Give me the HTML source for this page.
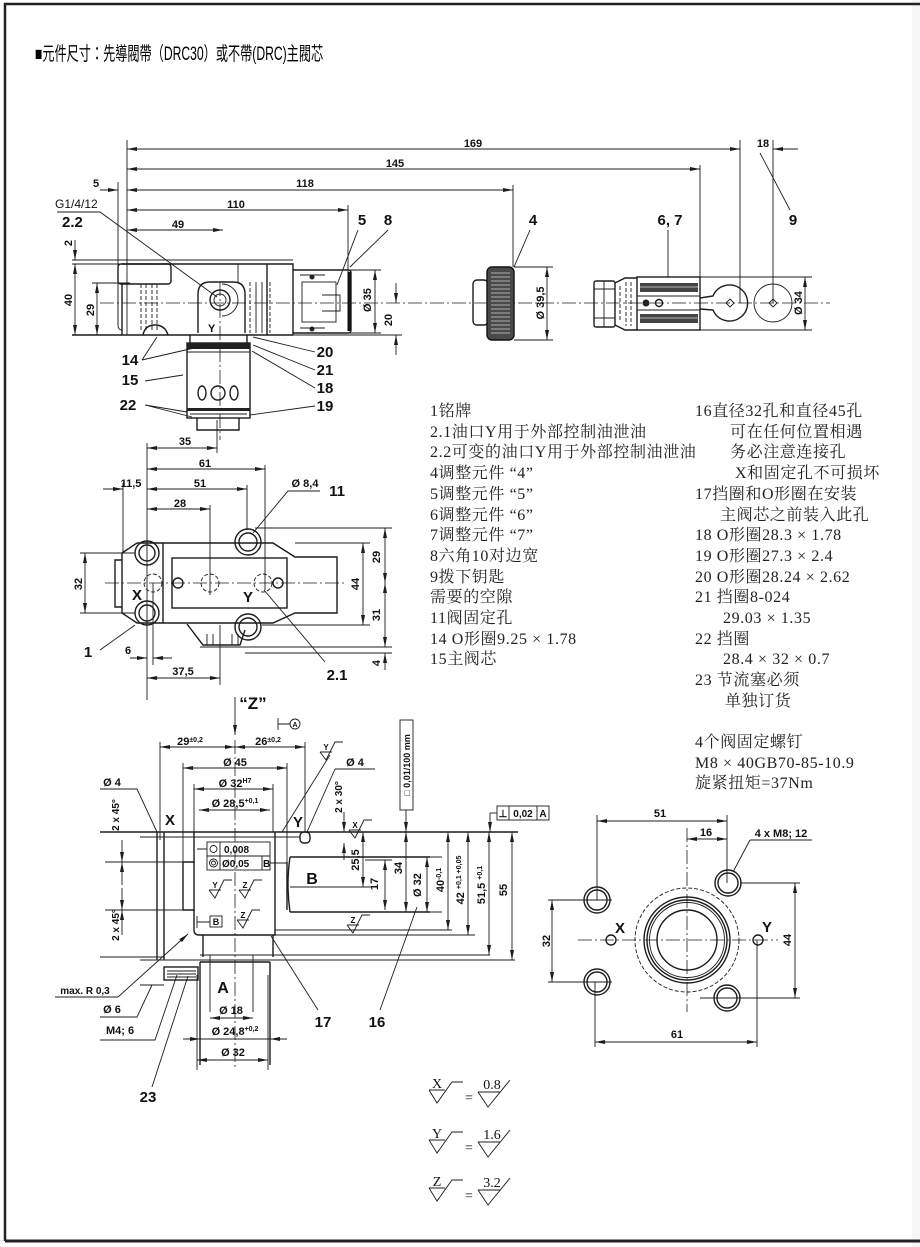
<!DOCTYPE html>
<html><head><meta charset="utf-8">
<style>
html,body{margin:0;padding:0;background:#fff}
svg{display:block}
.o{stroke:#1c1c1c;stroke-width:1.4;fill:none}
.t{stroke:#1c1c1c;stroke-width:0.9;fill:none}
.c{stroke:#1c1c1c;stroke-width:0.8;fill:none;stroke-dasharray:14 3 2 3}
.h{stroke:#1c1c1c;stroke-width:0.9;fill:none;stroke-dasharray:4 2}
text{font-family:"Liberation Sans",sans-serif;fill:#111}
.n{font-size:11px;font-weight:bold}
.s{font-size:10px;font-weight:bold}
.b{font-size:15px;font-weight:bold}
.lg{font-family:"Liberation Serif","Noto Serif CJK SC",serif;font-size:16px;fill:#222;letter-spacing:0.6px}
.sf{font-family:"Liberation Serif",serif;font-size:14px}
</style></head><body>
<svg width="920" height="1247" viewBox="0 0 920 1247" xmlns="http://www.w3.org/2000/svg">
<defs>
<marker id="a" viewBox="0 0 10 4" refX="10" refY="2" markerWidth="10" markerHeight="4" markerUnits="userSpaceOnUse" orient="auto-start-reverse"><path d="M0,0L10,2L0,4z" fill="#1c1c1c"/></marker>
</defs>
<rect x="0" y="0" width="920" height="1247" fill="#fff"/>
<rect x="912" y="0" width="8" height="1247" fill="#f6f6f6"/>
<path d="M5,1241V4H920" stroke="#222" stroke-width="2.5" fill="none"/>
<line x1="5" y1="1241" x2="920" y2="1241" stroke="#222" stroke-width="3"/>

<!-- Title -->
<text transform="translate(35,60) scale(0.64,1)" x="0" y="0" font-size="19" style="font-family:'Liberation Sans','Noto Sans CJK TC',sans-serif;fill:#000">■元件尺寸：先導閥帶（DRC30）或不帶(DRC)主閥芯</text>

<!-- ============ TOP VIEW ============ -->
<g>
<line class="t" x1="127" y1="149" x2="740" y2="149" marker-start="url(#a)" marker-end="url(#a)"/>
<line class="t" x1="773" y1="149" x2="798" y2="149" marker-start="url(#a)"/>
<line class="t" x1="127" y1="169" x2="700" y2="169" marker-start="url(#a)" marker-end="url(#a)"/>
<line class="t" x1="127" y1="190" x2="513" y2="190" marker-start="url(#a)" marker-end="url(#a)"/>
<line class="t" x1="100" y1="190" x2="118" y2="190" marker-end="url(#a)"/>
<line class="t" x1="127" y1="210" x2="348" y2="210" marker-start="url(#a)" marker-end="url(#a)"/>
<line class="t" x1="127" y1="230" x2="223" y2="230" marker-start="url(#a)" marker-end="url(#a)"/>
<path class="t" d="M127,140V335 M118,182V325 M348,205V272 M513,185V267 M700,165V277 M740,140V303 M773,140V303"/>
<text class="n" x="473" y="147" text-anchor="middle">169</text>
<text class="n" x="395" y="167" text-anchor="middle">145</text>
<text class="n" x="305" y="187" text-anchor="middle">118</text>
<text class="n" x="96" y="187" text-anchor="middle">5</text>
<text class="n" x="236" y="208" text-anchor="middle">110</text>
<text class="n" x="178" y="228" text-anchor="middle">49</text>
<text class="n" x="763" y="147" text-anchor="middle">18</text>
<text x="55" y="208" font-size="12">G1/4/12</text>
<text class="b" x="62" y="227">2.2</text>
<path class="t" d="M57,212H100L217,297"/>

<!-- body -->
<path class="t" d="M72,260H293 M72,264H122 M92,283H130"/>
<path class="o" d="M122,264H293V335 M122,284V335"/>
<rect class="o" x="118" y="264" width="53" height="20" rx="3"/>
<path class="t" d="M118,284V325Q118,330 122,330"/>
<path class="h" d="M141,284V330 M146,284V330 M152,284V330 M157,284V330"/>
<path class="o" d="M143,335Q145,325 155,325Q165,325 168,335"/>
<path class="o" d="M198,333V294Q198,282 210,282H233Q245,282 245,294V333"/>
<circle class="o" cx="220" cy="300" r="10"/><circle class="t" cx="220" cy="300" r="6"/>
<path class="t" d="M222,284A16,16 0 0 1 222,316"/>
<text x="208" y="332" font-size="11" font-weight="bold">Y</text>
<path class="t" d="M238,264V282 M256,282V333 M262,282V333"/>
<path class="h" d="M250,282V333 M270,282V333"/>
<path class="o" d="M267,264V335"/>
<path class="o" d="M293,270H348Q351,270 351,273V330Q351,333 348,333H293"/>
<path stroke="#111" stroke-width="3" d="M349,272V331"/>
<rect class="t" x="302" y="282" width="34" height="40"/>
<path class="t" d="M300,275H325 M300,328H325 M322,295H340V311H322"/>
<circle fill="#222" cx="312" cy="277" r="2.5"/><circle fill="#222" cx="312" cy="329" r="2.5"/>
<path class="c" d="M100,303H830"/>
<path class="o" d="M72,335H293"/>
<path class="t" d="M293,335H402 M350,270H381 M350,333H381"/>

<line class="t" x1="75" y1="264" x2="75" y2="335" marker-start="url(#a)" marker-end="url(#a)"/>
<line class="t" x1="75" y1="240" x2="75" y2="260" marker-end="url(#a)"/>
<line class="t" x1="97" y1="283" x2="97" y2="335" marker-start="url(#a)" marker-end="url(#a)"/>
<line class="t" x1="375" y1="270" x2="375" y2="333" marker-start="url(#a)" marker-end="url(#a)"/>
<line class="t" x1="396" y1="283" x2="396" y2="303" marker-end="url(#a)"/>
<line class="t" x1="396" y1="355" x2="396" y2="335" marker-end="url(#a)"/>
<text class="n" x="72" y="300" text-anchor="middle" transform="rotate(-90 72 300)">40</text>
<text class="n" x="72" y="243" text-anchor="middle" transform="rotate(-90 72 243)">2</text>
<text class="n" x="94" y="310" text-anchor="middle" transform="rotate(-90 94 310)">29</text>
<text class="n" x="371" y="300" text-anchor="middle" transform="rotate(-90 371 300)">Ø 35</text>
<text class="n" x="392" y="320" text-anchor="middle" transform="rotate(-90 392 320)">20</text>

<!-- spool 15 -->
<path class="o" d="M190,335V343 M247,335V343"/>
<rect class="o" x="187" y="343" width="63" height="75"/>
<rect fill="#222" x="187" y="343" width="63" height="6"/>
<path class="t" d="M187,352H250 M190,414H247"/>
<rect fill="#222" x="187" y="408" width="63" height="3"/>
<ellipse class="o" cx="202" cy="393" rx="4" ry="7"/>
<circle class="o" cx="218" cy="393" r="7"/>
<ellipse class="o" cx="234" cy="393" rx="4" ry="7"/>
<path class="o" d="M197,418V430H239V418"/>
<path class="c" d="M220,282V440"/>

<text class="b" x="130" y="365" text-anchor="middle">14</text>
<text class="b" x="130" y="385" text-anchor="middle">15</text>
<text class="b" x="128" y="410" text-anchor="middle">22</text>
<text class="b" x="325" y="357" text-anchor="middle">20</text>
<text class="b" x="325" y="375" text-anchor="middle">21</text>
<text class="b" x="325" y="393" text-anchor="middle">18</text>
<text class="b" x="325" y="411" text-anchor="middle">19</text>
<path class="t" d="M142,360L157,337 M142,360L207,345 M145,381L183,375 M145,405L187,412 M145,405L192,417 M315,352L253,337 M315,370L253,345 M315,388L252,351 M315,406L250,415"/>
<text class="b" x="362" y="225" text-anchor="middle">5</text>
<text class="b" x="388" y="225" text-anchor="middle">8</text>
<path class="t" d="M358,230L337,285 M388,230L350,267"/>

<!-- knob 4 -->
<rect class="o" x="473" y="280" width="15" height="45" rx="4"/>
<rect x="487" y="267" width="27" height="73" rx="5" fill="#4a4a4a" stroke="#111" stroke-width="1.4"/>
<path stroke="#cfcfcf" stroke-width="0.8" d="M491,273H510M491,277H510M491,281H510M491,285H510M491,289H510M491,293H510M491,297H510M491,301H510M491,305H510M491,309H510M491,313H510M491,317H510M491,321H510M491,325H510M491,329H510M491,333H510"/>
<line class="t" x1="547" y1="267" x2="547" y2="340" marker-start="url(#a)" marker-end="url(#a)"/>
<path class="t" d="M514,267H553 M514,340H553"/>
<text class="n" x="544" y="303" text-anchor="middle" transform="rotate(-90 544 303)">Ø 39,5</text>
<text class="b" x="533" y="225" text-anchor="middle">4</text>
<path class="t" d="M530,230L514,267"/>

<!-- 6,7 -->
<rect class="o" x="594" y="281" width="21" height="46" rx="2"/>
<path class="t" d="M594,289H615 M594,318H615 M604,281V327"/>
<path class="o" d="M615,283L625,278H637 M615,325L625,330H637"/>
<path class="h" d="M620,286V322 M626,282V326 M631,282V326"/>
<rect class="o" x="637" y="277" width="63" height="53"/>
<rect fill="#444" x="640" y="283" width="58" height="9"/>
<rect fill="#444" x="640" y="314" width="58" height="9"/>
<path stroke="#ddd" stroke-width="0.7" d="M640,287H698 M640,318H698"/>
<path class="t" d="M637,296H700 M637,310H700"/>
<circle fill="#222" cx="646" cy="303" r="3.5"/><circle class="o" cx="659" cy="303" r="3.5"/>
<path class="o" d="M700,298L713,296A18,18 0 1 1 713,310L700,309"/>
<circle class="t" cx="773" cy="303" r="19"/>
<path class="t" d="M730,299L734,303L730,307L726,303z M773,299L777,303L773,307L769,303z"/>
<path class="t" d="M700,277H812 M700,330H812"/>
<line class="t" x1="805" y1="277" x2="805" y2="330" marker-start="url(#a)" marker-end="url(#a)"/>
<text class="n" x="802" y="303" text-anchor="middle" transform="rotate(-90 802 303)">Ø 34</text>
<text class="b" x="670" y="225" text-anchor="middle">6, 7</text>
<path class="t" d="M668,230V277"/>
<text class="b" x="793" y="225" text-anchor="middle">9</text>
<path class="t" d="M760,153L790,210"/>
</g>

<!-- ============ PLAN VIEW ============ -->
<g>
<path class="t" d="M217,420V453 M147,443V700 M265,465V590 M247,485V530 M123,483V553 M210,505V595 M153,583V665 M220,625V685"/>
<line class="t" x1="147" y1="448" x2="217" y2="448" marker-start="url(#a)" marker-end="url(#a)"/>
<line class="t" x1="147" y1="469" x2="265" y2="469" marker-start="url(#a)" marker-end="url(#a)"/>
<line class="t" x1="103" y1="489" x2="123" y2="489" marker-end="url(#a)"/>
<line class="t" x1="147" y1="489" x2="247" y2="489" marker-start="url(#a)" marker-end="url(#a)"/>
<line class="t" x1="147" y1="509" x2="210" y2="509" marker-start="url(#a)" marker-end="url(#a)"/>
<text class="n" x="185" y="445" text-anchor="middle">35</text>
<text class="n" x="205" y="467" text-anchor="middle">61</text>
<text class="n" x="131" y="487" text-anchor="middle">11,5</text>
<text class="n" x="200" y="487" text-anchor="middle">51</text>
<text class="n" x="180" y="507" text-anchor="middle">28</text>
<text class="n" x="305" y="487" text-anchor="middle">Ø 8,4</text>
<text class="b" x="337" y="496" text-anchor="middle">11</text>
<path class="t" d="M320,491H288L253,533"/>

<path class="o" d="M137,543H273L295,557H337V613H295L273,623H163 M137,543L122,553V613L137,623H163 M115,560H122V607H115Z M163,543V623"/>
<path class="o" d="M187,624L203,645H240L245,630"/>
<path class="t" d="M207,645V634 M213,645V634 M232,645V634 M238,645V634"/>
<rect class="o" x="172" y="558" width="115" height="50"/>
<circle class="o" cx="147" cy="553" r="12"/><circle class="o" cx="147" cy="553" r="8"/>
<circle class="o" cx="147" cy="613" r="12"/><circle class="o" cx="147" cy="613" r="8"/>
<circle class="o" cx="248" cy="542" r="13"/><circle class="o" cx="248" cy="542" r="9"/>
<circle class="o" cx="248" cy="627" r="13"/><circle class="o" cx="248" cy="627" r="9"/>
<circle class="h" cx="153" cy="583" r="9"/>
<circle class="o" cx="178" cy="583" r="5"/>
<circle class="h" cx="210" cy="583" r="9"/>
<circle class="h" cx="263" cy="583" r="9"/>
<circle class="o" cx="278" cy="583" r="5"/>
<path class="c" d="M105,583H345"/>
<text class="b" x="137" y="600" text-anchor="middle" font-size="13">X</text>
<text class="b" x="248" y="602" text-anchor="middle" font-size="13">Y</text>

<path class="t" d="M255,528H392 M295,543H370 M262,625H370 M200,647H392 M245,653H392 M80,553H135 M80,613H135"/>
<line class="t" x1="385" y1="528" x2="385" y2="583" marker-start="url(#a)" marker-end="url(#a)"/>
<line class="t" x1="385" y1="583" x2="385" y2="647" marker-start="url(#a)" marker-end="url(#a)"/>
<line class="t" x1="385" y1="670" x2="385" y2="653" marker-end="url(#a)"/>
<line class="t" x1="363" y1="543" x2="363" y2="625" marker-start="url(#a)" marker-end="url(#a)"/>
<line class="t" x1="85" y1="553" x2="85" y2="613" marker-start="url(#a)" marker-end="url(#a)"/>
<text class="n" x="380" y="557" text-anchor="middle" transform="rotate(-90 380 557)">29</text>
<text class="n" x="380" y="615" text-anchor="middle" transform="rotate(-90 380 615)">31</text>
<text class="n" x="380" y="663" text-anchor="middle" transform="rotate(-90 380 663)">4</text>
<text class="n" x="359" y="584" text-anchor="middle" transform="rotate(-90 359 584)">44</text>
<text class="n" x="82" y="584" text-anchor="middle" transform="rotate(-90 82 584)">32</text>

<text class="b" x="88" y="657" text-anchor="middle">1</text>
<path class="t" d="M100,650L135,625"/>
<line class="t" x1="130" y1="658" x2="147" y2="658" marker-end="url(#a)"/>
<line class="t" x1="172" y1="658" x2="153" y2="658" marker-end="url(#a)"/>
<text class="n" x="128" y="654" text-anchor="middle">6</text>
<line class="t" x1="147" y1="678" x2="220" y2="678" marker-start="url(#a)" marker-end="url(#a)"/>
<text class="n" x="183" y="675" text-anchor="middle">37,5</text>
<text class="b" x="337" y="680" text-anchor="middle">2.1</text>
<path class="t" d="M325,662L264,590"/>
</g>

<!-- ============ LEGEND ============ -->
<g>
<text class="lg" x="430" y="416">1铭牌</text>
<text class="lg" x="430" y="437">2.1油口Y用于外部控制油泄油</text>
<text class="lg" x="430" y="457">2.2可变的油口Y用于外部控制油泄油</text>
<text class="lg" x="430" y="478">4调整元件 “4”</text>
<text class="lg" x="430" y="499">5调整元件 “5”</text>
<text class="lg" x="430" y="520">6调整元件 “6”</text>
<text class="lg" x="430" y="540">7调整元件 “7”</text>
<text class="lg" x="430" y="561">8六角10对边宽</text>
<text class="lg" x="430" y="582">9拨下钥匙</text>
<text class="lg" x="430" y="602">需要的空隙</text>
<text class="lg" x="430" y="623">11阀固定孔</text>
<text class="lg" x="430" y="644">14 O形圈9.25 × 1.78</text>
<text class="lg" x="430" y="664">15主阀芯</text>

<text class="lg" x="695" y="416">16直径32孔和直径45孔</text>
<text class="lg" x="730" y="437">可在任何位置相遇</text>
<text class="lg" x="730" y="457">务必注意连接孔</text>
<text class="lg" x="735" y="478">X和固定孔不可损坏</text>
<text class="lg" x="695" y="499">17挡圈和O形圈在安装</text>
<text class="lg" x="720" y="520">主阀芯之前装入此孔</text>
<text class="lg" x="695" y="540">18 O形圈28.3 × 1.78</text>
<text class="lg" x="695" y="561">19 O形圈27.3 × 2.4</text>
<text class="lg" x="695" y="582">20 O形圈28.24 × 2.62</text>
<text class="lg" x="695" y="602">21 挡圈8-024</text>
<text class="lg" x="723" y="623">29.03 × 1.35</text>
<text class="lg" x="695" y="644">22 挡圈</text>
<text class="lg" x="723" y="664">28.4 × 32 × 0.7</text>
<text class="lg" x="695" y="685">23 节流塞必须</text>
<text class="lg" x="725" y="706">单独订货</text>
<text class="lg" x="695" y="747">4个阀固定螺钉</text>
<text class="lg" x="695" y="768">M8 × 40GB70-85-10.9</text>
<text class="lg" x="695" y="788">旋紧扭矩=37Nm</text>
</g>

<!-- ============ BOTTOM-LEFT SECTION ============ -->
<g>
<line class="t" x1="235" y1="697" x2="235" y2="735" marker-end="url(#a)" stroke-width="1.4"/>
<text x="253" y="709" text-anchor="middle" font-size="17" font-weight="bold">“Z”</text>
<path class="t" d="M278,718V730 M278,724H290"/>
<circle class="t" cx="295" cy="724" r="5"/>
<text x="295" y="727" text-anchor="middle" font-size="7" font-weight="bold">A</text>

<path class="t" d="M160,742V840 M305,742V832 M183,763V910 M287,763V910 M194,784V832 M273,784V832"/>
<path class="c" d="M235,740V1070"/>
<line class="t" x1="160" y1="747" x2="235" y2="747" marker-start="url(#a)" marker-end="url(#a)"/>
<line class="t" x1="235" y1="747" x2="305" y2="747" marker-start="url(#a)" marker-end="url(#a)"/>
<line class="t" x1="183" y1="768" x2="287" y2="768" marker-start="url(#a)" marker-end="url(#a)"/>
<line class="t" x1="194" y1="789" x2="273" y2="789" marker-start="url(#a)" marker-end="url(#a)"/>
<line class="t" x1="199" y1="810" x2="270" y2="810" marker-start="url(#a)" marker-end="url(#a)"/>
<text class="n" x="190" y="745" text-anchor="middle">29<tspan font-size="7" dy="-3">±0,2</tspan></text>
<text class="n" x="268" y="745" text-anchor="middle">26<tspan font-size="7" dy="-3">±0,2</tspan></text>
<text class="n" x="235" y="766" text-anchor="middle">Ø 45</text>
<text class="n" x="235" y="787" text-anchor="middle">Ø 32<tspan font-size="7" dy="-4">H7</tspan></text>
<text class="n" x="235" y="807" text-anchor="middle">Ø 28,5<tspan font-size="7" dy="-4">+0,1</tspan></text>

<text class="n" x="112" y="786" text-anchor="middle">Ø 4</text>
<path class="t" d="M100,789H137L157,832"/>
<text class="b" x="170" y="825" text-anchor="middle">X</text>
<text class="b" x="298" y="827" text-anchor="middle">Y</text>

<path class="o" d="M100,832H518"/>
<path class="t" d="M140,837H300 M105,862H195 M105,910H195"/>
<path class="o" d="M157,832V960 M164,832V960"/>
<path class="o" d="M194,832V930Q194,935 199,935H275V832 M183,862V910 M287,862V910 M183,862H194 M183,910H194"/>
<path class="o" d="M290,857H430 M290,912H430 M290,857Q286,884 290,912"/>
<rect class="o" x="300" y="832" width="10" height="11" rx="4"/>
<path class="t" d="M290,887H370 M275,930H452 M275,935H475 M200,955H490 M140,960H515"/>
<text x="312" y="884" text-anchor="middle" font-size="16" font-weight="bold">B</text>

<!-- tolerance frame -->
<rect class="t" x="207" y="842" width="63" height="28" fill="#fff"/>
<path class="t" d="M207,856H270 M220,842V870 M262,856V870"/>
<circle class="t" cx="213.5" cy="849" r="3.5"/>
<circle class="t" cx="213.5" cy="863" r="4"/><circle class="t" cx="213.5" cy="863" r="2"/>
<text class="s" x="224" y="853">0,008</text>
<text class="s" x="222" y="867">Ø0,05</text>
<text class="s" x="263" y="867">B</text>
<path class="t" d="M207,849H197 M270,863H287"/>

<!-- small surface symbols -->
<g class="t">
<path d="M209,890H221 M209,890L215,898L224,880H232"/>
<path d="M239,890H251 M239,890L245,898L254,880H262"/>
<path d="M237,920H249 M237,920L243,928L252,910H260"/>
<path d="M349,830H361 M349,830L355,838L364,820H372"/>
<path d="M347,925H359 M347,925L353,933L362,915H370"/>
<path d="M320,752H332 M320,752L326,760L335,742H343"/>
</g>
<text x="215" y="888" text-anchor="middle" font-size="8" font-weight="bold">Y</text>
<text x="245" y="888" text-anchor="middle" font-size="8" font-weight="bold">Z</text>
<text x="243" y="918" text-anchor="middle" font-size="8" font-weight="bold">Z</text>
<text x="353" y="923" text-anchor="middle" font-size="8" font-weight="bold">Z</text>
<text x="355" y="828" text-anchor="middle" font-size="8" font-weight="bold">X</text>
<text x="326" y="750" text-anchor="middle" font-size="8" font-weight="bold">Y</text>
<path class="t" d="M330,755L282,832"/>
<rect class="t" x="210" y="916" width="12" height="11"/>
<text x="216" y="925" text-anchor="middle" font-size="9" font-weight="bold">B</text>
<path class="t" d="M197,922H210 M197,916V928"/>

<!-- right dims -->
<rect class="t" x="400" y="720" width="13" height="90" fill="#fff"/>
<text x="410" y="765" text-anchor="middle" font-size="9" font-weight="bold" transform="rotate(-90 410 765)">□ 0,01/100 mm</text>
<line class="t" x1="406" y1="810" x2="406" y2="832" marker-end="url(#a)"/>
<line class="t" x1="406" y1="832" x2="406" y2="912" marker-start="url(#a)" marker-end="url(#a)"/>
<rect class="t" x="497" y="806" width="52" height="14" fill="#fff"/>
<path class="t" d="M509,806V820 M537,806V820"/>
<text x="503" y="817" text-anchor="middle" font-size="10" font-weight="bold">⊥</text>
<text class="s" x="523" y="817" text-anchor="middle">0,02</text>
<text class="s" x="543" y="817" text-anchor="middle">A</text>
<path class="t" d="M497,813H490"/>
<line class="t" x1="490" y1="813" x2="490" y2="832" marker-end="url(#a)"/>
<text class="s" x="342" y="797" text-anchor="middle" transform="rotate(-90 342 797)">2 x 30°</text>
<line class="t" x1="344" y1="812" x2="344" y2="832" marker-end="url(#a)"/>
<line class="t" x1="344" y1="860" x2="344" y2="843" marker-end="url(#a)"/>
<line class="t" x1="363" y1="832" x2="363" y2="887" marker-start="url(#a)" marker-end="url(#a)"/>
<line class="t" x1="385" y1="860" x2="385" y2="910" marker-start="url(#a)" marker-end="url(#a)"/>
<line class="t" x1="427" y1="857" x2="427" y2="912" marker-start="url(#a)" marker-end="url(#a)"/>
<line class="t" x1="448" y1="832" x2="448" y2="930" marker-start="url(#a)" marker-end="url(#a)"/>
<line class="t" x1="468" y1="832" x2="468" y2="935" marker-start="url(#a)" marker-end="url(#a)"/>
<line class="t" x1="489" y1="832" x2="489" y2="955" marker-start="url(#a)" marker-end="url(#a)"/>
<line class="t" x1="512" y1="832" x2="512" y2="960" marker-start="url(#a)" marker-end="url(#a)"/>
<path class="t" d="M365,860H392 M430,857H442 M430,912H442"/>
<text class="n" x="359" y="860" text-anchor="middle" transform="rotate(-90 359 860)">25,5</text>
<text class="n" x="378" y="884" text-anchor="middle" transform="rotate(-90 378 884)">17</text>
<text class="n" x="402" y="868" text-anchor="middle" transform="rotate(-90 402 868)">34</text>
<text class="n" x="421" y="885" text-anchor="middle" transform="rotate(-90 421 885)">Ø 32</text>
<text class="n" x="444" y="880" text-anchor="middle" transform="rotate(-90 444 880)">40<tspan font-size="7" dy="-3">-0,1</tspan></text>
<text class="n" x="464" y="880" text-anchor="middle" transform="rotate(-90 464 880)">42 <tspan font-size="7" dy="-3">+0,1 +0,05</tspan></text>
<text class="n" x="485" y="885" text-anchor="middle" transform="rotate(-90 485 885)">51,5 <tspan font-size="7" dy="-3">+0,1</tspan></text>
<text class="n" x="507" y="890" text-anchor="middle" transform="rotate(-90 507 890)">55</text>
<text class="n" x="355" y="766" text-anchor="middle">Ø 4</text>
<path class="t" d="M335,769H375 M335,769L307,832"/>
<text class="b" x="323" y="1027" text-anchor="middle">17</text>
<text class="b" x="377" y="1027" text-anchor="middle">16</text>
<path class="t" d="M318,1010L271,936 M380,1010L417,907"/>

<!-- left dims -->
<text class="s" x="119" y="815" text-anchor="middle" transform="rotate(-90 119 815)">2 x 45°</text>
<text class="s" x="119" y="925" text-anchor="middle" transform="rotate(-90 119 925)">2 x 45°</text>
<line class="t" x1="122" y1="840" x2="122" y2="862" marker-end="url(#a)"/>
<line class="t" x1="122" y1="885" x2="122" y2="862" marker-end="url(#a)"/>
<line class="t" x1="122" y1="888" x2="122" y2="910" marker-end="url(#a)"/>
<line class="t" x1="122" y1="935" x2="122" y2="910" marker-end="url(#a)"/>
<path class="t" d="M100,957H164 M140,985H164"/>

<!-- lower A port -->
<path class="o" d="M203,935V957 M273,935V957"/>
<path class="o" d="M200,962H270 M200,962V1065 M270,962V1065"/>
<path class="t" d="M210,955V1012 M253,955V1012 M197,975V1070 M268,975V1070"/>
<rect class="o" x="164" y="967" width="34" height="13"/>
<path class="t" d="M167,971H196 M167,974H196 M167,977H196"/>
<text x="223" y="993" text-anchor="middle" font-size="16" font-weight="bold">A</text>
<line class="t" x1="210" y1="1018" x2="253" y2="1018" marker-start="url(#a)" marker-end="url(#a)"/>
<text class="n" x="231" y="1014" text-anchor="middle">Ø 18</text>
<line class="t" x1="183" y1="1039" x2="200" y2="1039" marker-end="url(#a)"/>
<line class="t" x1="287" y1="1039" x2="270" y2="1039" marker-end="url(#a)"/>
<path class="t" d="M200,1039H270"/>
<text class="n" x="235" y="1035" text-anchor="middle">Ø 24,8<tspan font-size="7" dy="-4">+0,2</tspan></text>
<line class="t" x1="197" y1="1060" x2="268" y2="1060" marker-start="url(#a)" marker-end="url(#a)"/>
<text class="n" x="233" y="1056" text-anchor="middle">Ø 32</text>

<text class="s" x="85" y="994" text-anchor="middle">max. R 0,3</text>
<path class="t" d="M55,997H118"/>
<line class="t" x1="118" y1="997" x2="188" y2="934" marker-end="url(#a)"/>
<text class="n" x="112" y="1013" text-anchor="middle">Ø 6</text>
<path class="t" d="M100,1017H137L152,985"/>
<text class="n" x="120" y="1034" text-anchor="middle">M4; 6</text>
<path class="t" d="M100,1040H155L177,975"/>
<text class="b" x="148" y="1102" text-anchor="middle">23</text>
<path class="t" d="M152,1087L188,976"/>
</g>

<!-- ============ BOTTOM-RIGHT VIEW ============ -->
<g>
<path class="t" d="M597,815V900 M727,815V883 M548,900H612 M548,982H612 M740,883H800 M700,998H800 M595,982V1047 M757,940V1047"/>
<path class="c" d="M687,828V1012 M578,940H778"/>
<line class="t" x1="597" y1="821" x2="727" y2="821" marker-start="url(#a)" marker-end="url(#a)"/>
<line class="t" x1="687" y1="839" x2="727" y2="839" marker-start="url(#a)" marker-end="url(#a)"/>
<text class="n" x="660" y="817" text-anchor="middle">51</text>
<text class="n" x="706" y="836" text-anchor="middle">16</text>
<text class="n" x="781" y="837" text-anchor="middle">4 x M8; 12</text>
<path class="t" d="M750,840H812 M750,840L733,872"/>
<circle class="o" cx="597" cy="900" r="13"/><circle class="o" cx="597" cy="900" r="10"/>
<circle class="o" cx="597" cy="982" r="13"/><circle class="o" cx="597" cy="982" r="10"/>
<circle class="o" cx="728" cy="883" r="13"/><circle class="o" cx="728" cy="883" r="10"/>
<circle class="o" cx="727" cy="998" r="13"/><circle class="o" cx="727" cy="998" r="10"/>
<circle class="h" cx="687" cy="940" r="52"/>
<circle class="o" cx="687" cy="940" r="43"/>
<circle class="o" cx="687" cy="940" r="40"/>
<circle class="t" cx="687" cy="940" r="37.5"/>
<circle class="o" cx="687" cy="940" r="30"/>
<circle class="o" cx="611" cy="940" r="5"/>
<circle class="o" cx="758" cy="940" r="5"/>
<text class="b" x="620" y="933" text-anchor="middle">X</text>
<text class="b" x="767" y="932" text-anchor="middle">Y</text>
<line class="t" x1="552" y1="900" x2="552" y2="982" marker-start="url(#a)" marker-end="url(#a)"/>
<line class="t" x1="795" y1="883" x2="795" y2="998" marker-start="url(#a)" marker-end="url(#a)"/>
<line class="t" x1="595" y1="1042" x2="757" y2="1042" marker-start="url(#a)" marker-end="url(#a)"/>
<text class="n" x="550" y="941" text-anchor="middle" transform="rotate(-90 550 941)">32</text>
<text class="n" x="791" y="940" text-anchor="middle" transform="rotate(-90 791 940)">44</text>
<text class="n" x="677" y="1038" text-anchor="middle">61</text>
</g>

<!-- ============ SURFACE LEGEND ============ -->
<g class="t" stroke-width="1.2">
<path d="M429,1090H445 M429,1090L437,1103L452,1082H463 M478,1092H500 M478,1092L488,1107L510,1080"/>
<path d="M429,1140H445 M429,1140L437,1153L452,1132H463 M478,1142H500 M478,1142L488,1157L510,1130"/>
<path d="M429,1188H445 M429,1188L437,1201L452,1180H463 M478,1190H500 M478,1190L488,1205L510,1178"/>
</g>
<text class="sf" x="437" y="1088" text-anchor="middle" font-size="12">X</text>
<text class="sf" x="437" y="1138" text-anchor="middle" font-size="12">Y</text>
<text class="sf" x="437" y="1186" text-anchor="middle" font-size="12">Z</text>
<text class="sf" x="469" y="1102" text-anchor="middle" font-size="16">=</text>
<text class="sf" x="469" y="1152" text-anchor="middle" font-size="16">=</text>
<text class="sf" x="469" y="1200" text-anchor="middle" font-size="16">=</text>
<text class="sf" x="492" y="1089" text-anchor="middle">0.8</text>
<text class="sf" x="492" y="1139" text-anchor="middle">1.6</text>
<text class="sf" x="492" y="1187" text-anchor="middle">3.2</text>
</svg>
</body></html>
